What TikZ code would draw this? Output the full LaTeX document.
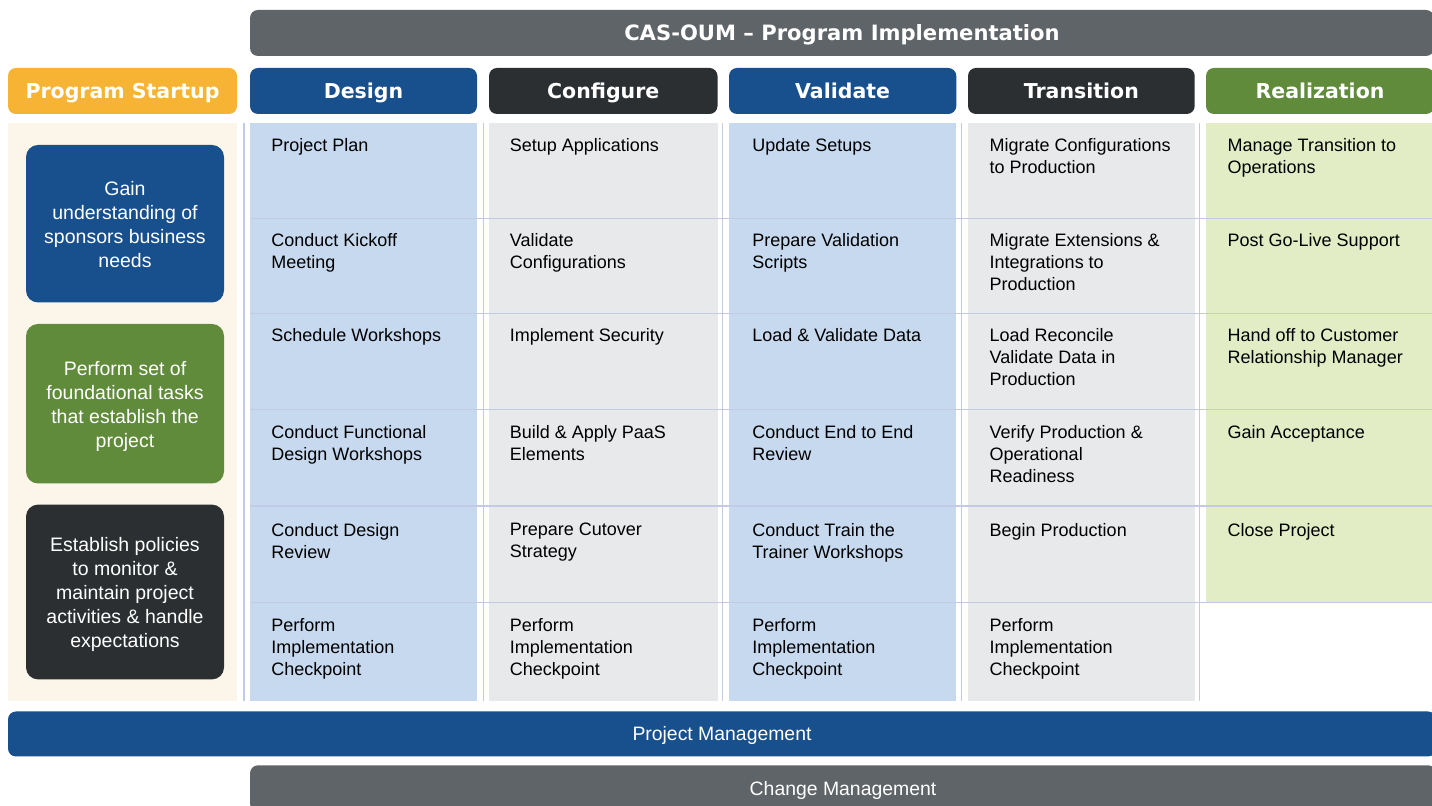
\documentclass[tikz,border=0pt]{standalone}
\usepackage{fontspec}
\setmainfont{Liberation Sans}
\newfontfamily\hdfont{DejaVu Sans}
\definecolor{cblue}{HTML}{184F8D}
\definecolor{cdark}{HTML}{2B2F31}
\definecolor{cgray}{HTML}{5F6468}
\definecolor{corange}{HTML}{F7B333}
\definecolor{cgreen}{HTML}{608B3B}
\definecolor{clblue}{HTML}{C6D9EF}
\definecolor{clgray}{HTML}{E8E9EB}
\definecolor{clgreen}{HTML}{E2EDC6}
\definecolor{ccream}{HTML}{FCF6EA}
\definecolor{cline}{HTML}{C5C9E8}
\begin{document}
\begin{tikzpicture}[x=0.5pt,y=-0.5pt,
  hdrbox/.style={rounded corners=4pt, text=white, inner sep=0pt,
    text height=7.47pt, text depth=0pt,
    minimum height=23pt, font=\hdfont\bfseries\fontsize{10.25}{12}\selectfont},
  barbox/.style={rounded corners=4pt, text=white, inner sep=0pt,
    text height=6.95pt, text depth=0pt,
    font=\fontsize{9.7}{12}\selectfont},
  leftbox/.style={rounded corners=6pt, inner sep=0pt, minimum width=99pt},
  lefttext/.style={anchor=north, inner sep=0pt, text=white, align=center,
    font=\fontsize{9.75}{12}\selectfont},
  cell/.style={anchor=north west, inner sep=0pt, align=left,
    font=\fontsize{9}{11}\selectfont, text=black},
  sep/.style={draw=cline, line width=0.6pt}
]
\clip (0,0) rectangle (1432,806);
\fill[white] (0,0) rectangle (1432,806);

% title
\node (title) [hdrbox, fill=cgray, minimum width=592pt, text height=7.7pt,
  font=\hdfont\bfseries\fontsize{10.55}{12}\selectfont] at (842,33) {CAS-OUM – Program Implementation};

% headers
\node (hstart) [hdrbox, fill=corange, minimum width=114.5pt] at (122.5,91) {Program Startup};
\node (hdesign) [hdrbox, fill=cblue, minimum width=113.5pt] at (363.5,91) {Design};
\node (hconf) [hdrbox, fill=cdark, minimum width=114.25pt] at (603.25,91) {Configure};
\node (hval) [hdrbox, fill=cblue, minimum width=113.65pt] at (842.65,91) {Validate};
\node (htrans) [hdrbox, fill=cdark, minimum width=113.35pt] at (1081.35,91) {Transition};
\node (hreal) [hdrbox, fill=cgreen, minimum width=114pt] at (1320,91) {Realization};

% column backgrounds
\fill[ccream] (8,123) rectangle (237.3,701);
\fill[clblue] (250,123) rectangle (477.3,701);
\fill[clgray] (489,123) rectangle (717.7,701);
\fill[clblue] (728.7,123) rectangle (956.3,701);
\fill[clgray] (968,123) rectangle (1194.7,701);
\fill[clgreen] (1205.7,123) rectangle (1432,602.7);

% separators
\foreach \xx in {244,483.3,722.7,961.7,1199.3}
  \draw[sep] (\xx,123) -- (\xx,701);
\foreach \yy in {218.3,313.3,409.3,506,602.7}
  \draw[sep] (250,\yy) -- (1432,\yy);

% left boxes
\node (lb1) [leftbox, fill=cblue, minimum height=78.75pt] at (125,223.75) {};
\node (lb2) [leftbox, fill=cgreen, minimum height=79.75pt] at (125,403.75) {};
\node (lb3) [leftbox, fill=cdark, minimum height=87.4pt] at (125,592) {};
\node (lb1t) [lefttext] at (125,180.5) {Gain\\understanding of\\sponsors business\\needs};
\node (lb2t) [lefttext] at (125,361.3) {Perform set of\\foundational tasks\\that establish the\\project};
\node (lb3t) [lefttext] at (125,537.3) {Establish policies\\to monitor \&\\maintain project\\activities \& handle\\expectations};

% Design
\node (d1) [cell] at (271,138) {Project Plan};
\node (d2) [cell] at (271,233.3) {Conduct Kickoff\\Meeting};
\node (d3) [cell] at (271,328.3) {Schedule Workshops};
\node (d4) [cell] at (271,425.3) {Conduct Functional\\Design Workshops};
\node (d5) [cell] at (271,523) {Conduct Design\\Review};
\node (d6) [cell] at (271,617.7) {Perform\\Implementation\\Checkpoint};
% Configure
\node (c1) [cell] at (509.5,138) {Setup Applications};
\node (c2) [cell] at (509.5,233.3) {Validate\\Configurations};
\node (c3) [cell] at (509.5,328.3) {Implement Security};
\node (c4) [cell] at (509.5,425.3) {Build \& Apply PaaS\\Elements};
\node (c5) [cell] at (509.5,523) {Prepare Cutover\\Strategy};
\node (c6) [cell] at (509.5,617.7) {Perform\\Implementation\\Checkpoint};
% Validate
\node (v1) [cell] at (752,138) {Update Setups};
\node (v2) [cell] at (752,233.3) {Prepare Validation\\Scripts};
\node (v3) [cell] at (752,328.3) {Load \& Validate Data};
\node (v4) [cell] at (752,425.3) {Conduct End to End\\Review};
\node (v5) [cell] at (752,523) {Conduct Train the\\Trainer Workshops};
\node (v6) [cell] at (752,617.7) {Perform\\Implementation\\Checkpoint};
% Transition
\node (t1) [cell] at (989.3,138) {Migrate Configurations\\to Production};
\node (t2) [cell] at (989.3,233.3) {Migrate Extensions \&\\Integrations to\\Production};
\node (t3) [cell] at (989.3,328.3) {Load Reconcile\\Validate Data in\\Production};
\node (t4) [cell] at (989.3,425.3) {Verify Production \&\\Operational\\Readiness};
\node (t5) [cell] at (989.3,523) {Begin Production};
\node (t6) [cell] at (989.3,617.7) {Perform\\Implementation\\Checkpoint};
% Realization
\node (r1) [cell] at (1227.3,138) {Manage Transition to\\Operations};
\node (r2) [cell] at (1227.3,233.3) {Post Go-Live Support};
\node (r3) [cell] at (1227.3,328.3) {Hand off to Customer\\Relationship Manager};
\node (r4) [cell] at (1227.3,425.3) {Gain Acceptance};
\node (r5) [cell] at (1227.3,523) {Close Project};

% bottom bars
\node (pm) [barbox, fill=cblue, minimum width=714pt, minimum height=22.5pt] at (722,734) {Project Management};
\node (cm) [barbox, fill=cgray, minimum width=593pt, minimum height=23pt] at (843,788.3) {Change Management};
\end{tikzpicture}
\end{document}
